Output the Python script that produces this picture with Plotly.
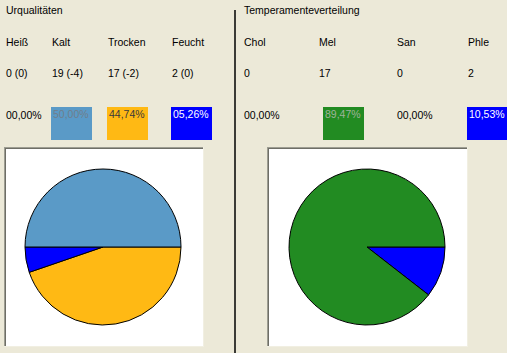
import plotly.graph_objects as go

W, H = 507, 353

# ---- data ----
qual_title = "Urqualitäten"
qual_labels = ["Heiß", "Kalt", "Trocken", "Feucht"]
qual_counts = [0, 19, 17, 2]
qual_deltas = [0, -4, -2, 0]
qual_colors = ["#E8E4D0", "#5A9AC7", "#FFB914", "#0000FF"]
# clockwise from 3 o'clock
qual_pie_order = ["Trocken", "Feucht", "Kalt", "Heiß"]

temp_title = "Temperamenteverteilung"
temp_labels = ["Chol", "Mel", "San", "Phle"]
temp_counts = [0, 17, 0, 2]
temp_colors = ["#E8E4D0", "#228B22", "#E8E4D0", "#0000FF"]
# clockwise from 3 o'clock
temp_pie_order = ["Phle", "San", "Mel", "Chol"]


def pct(v, total):
    p = 100.0 * v / total if total else 0.0
    s = f"{p:05.2f}".replace(".", ",")
    return s + "%"


def px(x):
    return x / W


def py(y):
    return 1 - y / H


BG = "#ECE9D8"
FONT = "Liberation Sans, Arial, sans-serif"
FS = 10.5

fig = go.Figure()
shapes = []
annotations = []


def text(x, y, s, color="black"):
    annotations.append(dict(x=px(x), y=py(y), xref="paper", yref="paper", text=s,
                            showarrow=False, xanchor="left", yanchor="middle",
                            xshift=-1,
                            font=dict(family=FONT, size=FS, color=color)))


def rect(x0, y0, x1, y1, fill, line=None):
    shapes.append(dict(type="rect", xref="paper", yref="paper",
                       x0=px(x0), x1=px(x1), y0=py(y1), y1=py(y0),
                       fillcolor=fill, line=dict(width=0) if line is None else line,
                       layer="below"))


def hline(x0, x1, y, color, w=1):
    shapes.append(dict(type="line", xref="paper", yref="paper", x0=px(x0), x1=px(x1),
                       y0=py(y), y1=py(y), line=dict(color=color, width=w), layer="below"))


def vline(x, y0, y1, color, w=1):
    shapes.append(dict(type="line", xref="paper", yref="paper", x0=px(x), x1=px(x),
                       y0=py(y0), y1=py(y1), line=dict(color=color, width=w), layer="below"))


def panel(title, x_title, xs, box_xs, labels, counts, colors, vals_text, box_txt_colors,
          pie_order, box, pie_cx):
    text(x_title, 10, title)
    total = sum(counts)
    for i, lab in enumerate(labels):
        text(xs[i], 42, lab)
        text(xs[i], 73, vals_text[i])
        if counts[i] > 0:
            rect(box_xs[i], 107, box_xs[i] + 41, 140, colors[i])
            text(box_xs[i] + 1, 114, pct(counts[i], total), box_txt_colors[i])
        else:
            text(xs[i], 115, pct(counts[i], total))
    # sunken white box
    bx0, by0, bx1, by1 = box
    rect(bx0, by0, bx1, by1, "white")
    hline(bx0, bx1 + 1, by0 + 0.5, "#9D9D92")
    vline(bx0 + 0.5, by0, by1 + 1, "#9D9D92")
    hline(bx0 + 1, bx1, by0 + 1.5, "#6E6E66")
    vline(bx0 + 1.5, by0 + 1, by1, "#6E6E66")
    hline(bx0, bx1 + 1, by1 + 0.5, "#F1EFE2")
    vline(bx1 + 0.5, by0, by1 + 1, "#F1EFE2")
    # pie
    r = 78
    keep = [l for l in pie_order if counts[labels.index(l)] > 0]
    vals = [counts[labels.index(l)] for l in keep]
    cols = [colors[labels.index(l)] for l in keep]
    fig.add_trace(go.Pie(labels=keep, values=vals, sort=False, direction="clockwise",
                         rotation=90, textinfo="none", hoverinfo="label+value",
                         marker=dict(colors=cols, line=dict(color="black", width=1)),
                         domain=dict(x=[px(pie_cx - r), px(pie_cx + r)],
                                     y=[py(247 + r), py(247 - r)]),
                         showlegend=False))


qual_vals_text = [f"{c} ({d})" for c, d in zip(qual_counts, qual_deltas)]
panel(qual_title, 5, [5, 51, 107, 171], [5, 51, 107, 171], qual_labels, qual_counts,
      qual_colors, qual_vals_text, ["black", "#6F7F8C", "#3A3A3A", "white"],
      qual_pie_order, (4, 147, 203, 346), 103)

temp_vals_text = [str(c) for c in temp_counts]
panel(temp_title, 243, [243, 318, 396, 467], [243, 323, 396, 467], temp_labels, temp_counts,
      temp_colors, temp_vals_text, ["black", "#9FB39A", "black", "white"],
      temp_pie_order, (267, 147, 467, 346), 367)

# separator
vline(235, 10, 353, "black", 1.5)

fig.update_layout(width=W, height=H, margin=dict(l=0, r=0, t=0, b=0),
                  paper_bgcolor=BG, plot_bgcolor=BG, shapes=shapes,
                  annotations=annotations, showlegend=False)
fig.write_html("out.html")
